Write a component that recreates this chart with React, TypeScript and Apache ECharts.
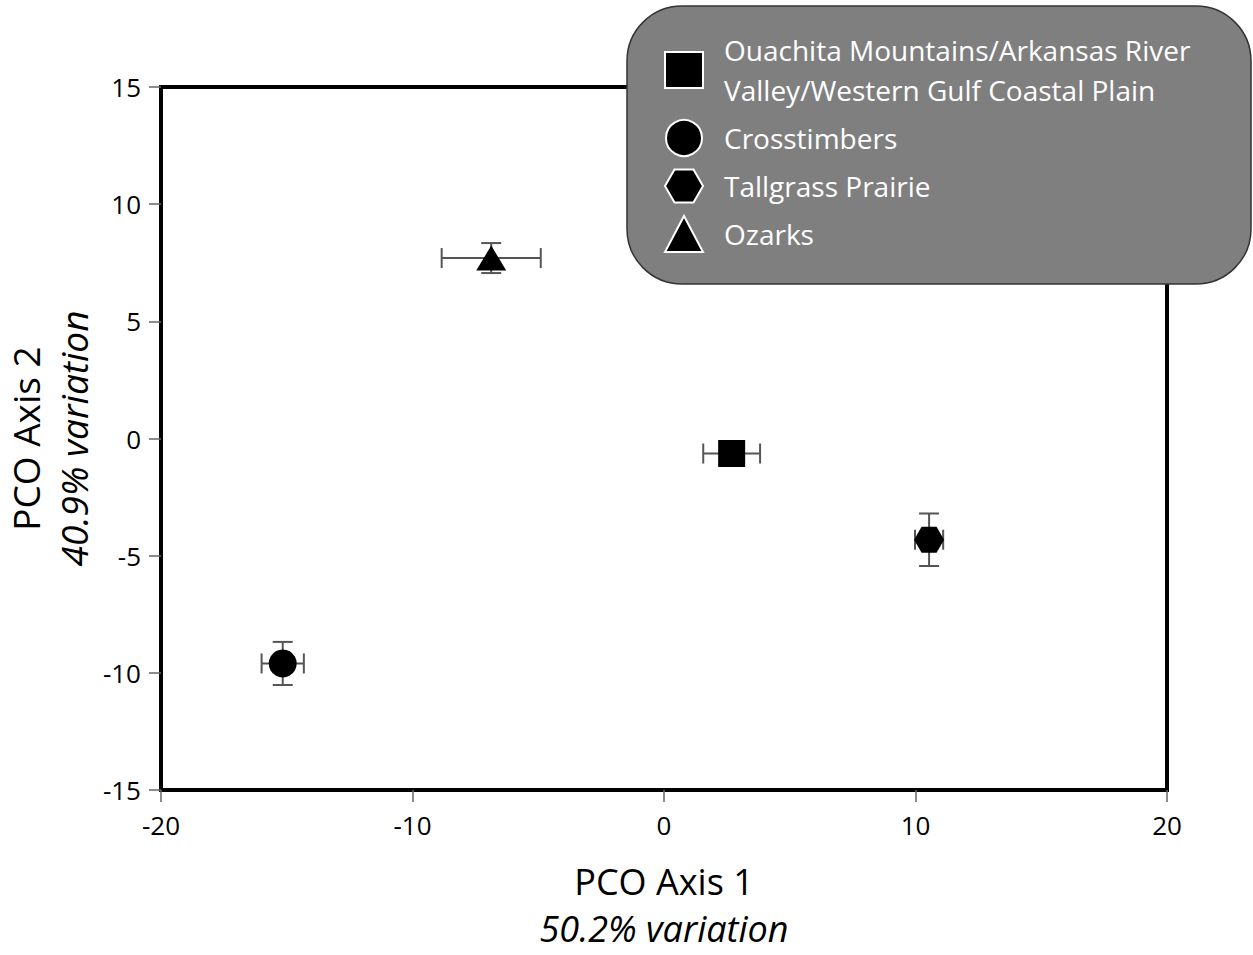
import React, { useEffect, useRef } from "react";
import * as echarts from "echarts";

const groups = [
  "Ouachita Mountains/Arkansas River Valley/Western Gulf Coastal Plain",
  "Crosstimbers",
  "Tallgrass Prairie",
  "Ozarks",
];
const symbols = [
  "rect",
  "circle",
  "path://M0,0.866 L0.5,0 L1.5,0 L2,0.866 L1.5,1.732 L0.5,1.732 Z",
  "triangle",
];
const xMean = [2.69, -15.16, 10.54, -6.87];
const yMean = [-0.64, -9.6, -4.32, 7.7];
const xErr = [1.13, 0.84, 0.56, 1.97];
const yErr = [0.45, 0.92, 1.12, 0.64];
const xTicks = { min: -20, max: 20, interval: 10 };
const yTicks = { min: -15, max: 15, interval: 5 };

const FONT = "'Open Sans', sans-serif";

export default function App() {
  const ref = useRef<HTMLDivElement>(null);
  useEffect(() => {
    document.body.style.margin = "0";
    const chart = echarts.init(ref.current!, null, { renderer: "svg" });
    const markerSizes: any[] = [27, 28, [30, 26], [30, 25]];
    const scatterSeries = groups.map((g, i) => ({
      name: g,
      type: "scatter",
      symbol: symbols[i],
      symbolSize: markerSizes[i],
      z: 5,
      itemStyle: { color: "#000", opacity: 1 },
      data: [[xMean[i], yMean[i]]],
    }));
    const errData = groups.map((_, i) => [xMean[i], yMean[i], xErr[i], yErr[i]]);
    const option: any = {
      animation: false,
      textStyle: { fontFamily: FONT },
      grid: {
        left: 161,
        top: 87,
        width: 1006,
        height: 703,
        show: true,
        borderColor: "#000",
        borderWidth: 4,
        backgroundColor: "transparent",
        outerBoundsMode: "none",
        containLabel: false,
      },
      xAxis: {
        type: "value",
        ...xTicks,
        splitLine: { show: false },
        axisLine: { show: false, onZero: false },
        axisTick: { show: true, length: 12, lineStyle: { color: "#666", width: 1.5 } },
        axisLabel: { color: "#000", fontSize: 26, margin: 22, fontFamily: FONT },
        name: "{a|PCO Axis 1}\n{b|50.2% variation}",
        nameLocation: "middle",
        nameGap: 68,
        nameTextStyle: {
          align: "center",
          rich: {
            a: { fontSize: 36, lineHeight: 47, color: "#000", fontFamily: FONT },
            b: { fontSize: 36, lineHeight: 47, color: "#000", fontStyle: "italic", fontFamily: FONT },
          },
        },
      },
      yAxis: {
        type: "value",
        ...yTicks,
        splitLine: { show: false },
        axisLine: { show: false, onZero: false },
        axisTick: { show: true, length: 12, lineStyle: { color: "#666", width: 1.5 } },
        axisLabel: { color: "#000", fontSize: 26, margin: 20, fontFamily: FONT },
        name: "{a|PCO Axis 2}\n{b|40.9% variation}",
        nameLocation: "middle",
        nameRotate: 90,
        nameGap: 63,
        nameTextStyle: {
          align: "center",
          rich: {
            a: { fontSize: 37, lineHeight: 48, color: "#000", fontFamily: FONT },
            b: { fontSize: 37, lineHeight: 48, color: "#000", fontStyle: "italic", fontFamily: FONT },
          },
        },
      },
      legend: {
        data: groups,
        orient: "vertical",
        left: 664,
        top: 30,
        padding: 0,
        itemWidth: 38,
        itemHeight: 36,
        itemGap: 8,
        z: 10,
        selectedMode: false,
        formatter: (n: string) => n.replace("River Valley", "River\nValley"),
        itemStyle: { color: "#000", borderColor: "#fff", borderWidth: 2 },
        textStyle: {
          color: "#fff",
          fontSize: 28,
          lineHeight: 40,
          fontFamily: FONT,
          padding: [0, 0, 0, 16],
        },
      },
      graphic: [
        {
          type: "rect",
          z: 3,
          zlevel: 0,
          shape: { x: 627, y: 6, width: 624, height: 278, r: 55 },
          style: { fill: "#7f7f7f", stroke: "#333", lineWidth: 1.5 },
        },
      ],
      series: [
        {
          type: "custom",
          name: "error",
          z: 4,
          silent: true,
          data: errData,
          renderItem: (params: any, api: any) => {
            const x = api.value(0);
            const y = api.value(1);
            const ex = api.value(2);
            const ey = api.value(3);
            const l = api.coord([x - ex, y]);
            const r = api.coord([x + ex, y]);
            const t = api.coord([x, y + ey]);
            const b = api.coord([x, y - ey]);
            const cap = 10;
            const st = { stroke: "#555", lineWidth: 2 };
            return {
              type: "group",
              children: [
                { type: "line", shape: { x1: l[0], y1: l[1], x2: r[0], y2: r[1] }, style: st },
                { type: "line", shape: { x1: l[0], y1: l[1] - cap, x2: l[0], y2: l[1] + cap }, style: st },
                { type: "line", shape: { x1: r[0], y1: r[1] - cap, x2: r[0], y2: r[1] + cap }, style: st },
                { type: "line", shape: { x1: t[0], y1: t[1], x2: b[0], y2: b[1] }, style: st },
                { type: "line", shape: { x1: t[0] - cap, y1: t[1], x2: t[0] + cap, y2: t[1] }, style: st },
                { type: "line", shape: { x1: b[0] - cap, y1: b[1], x2: b[0] + cap, y2: b[1] }, style: st },
              ],
            };
          },
        },
        ...scatterSeries,
      ],
    };
    chart.setOption(option);
    return () => chart.dispose();
  }, []);
  return <div ref={ref} style={{ width: 1253, height: 955 }} />;
}
